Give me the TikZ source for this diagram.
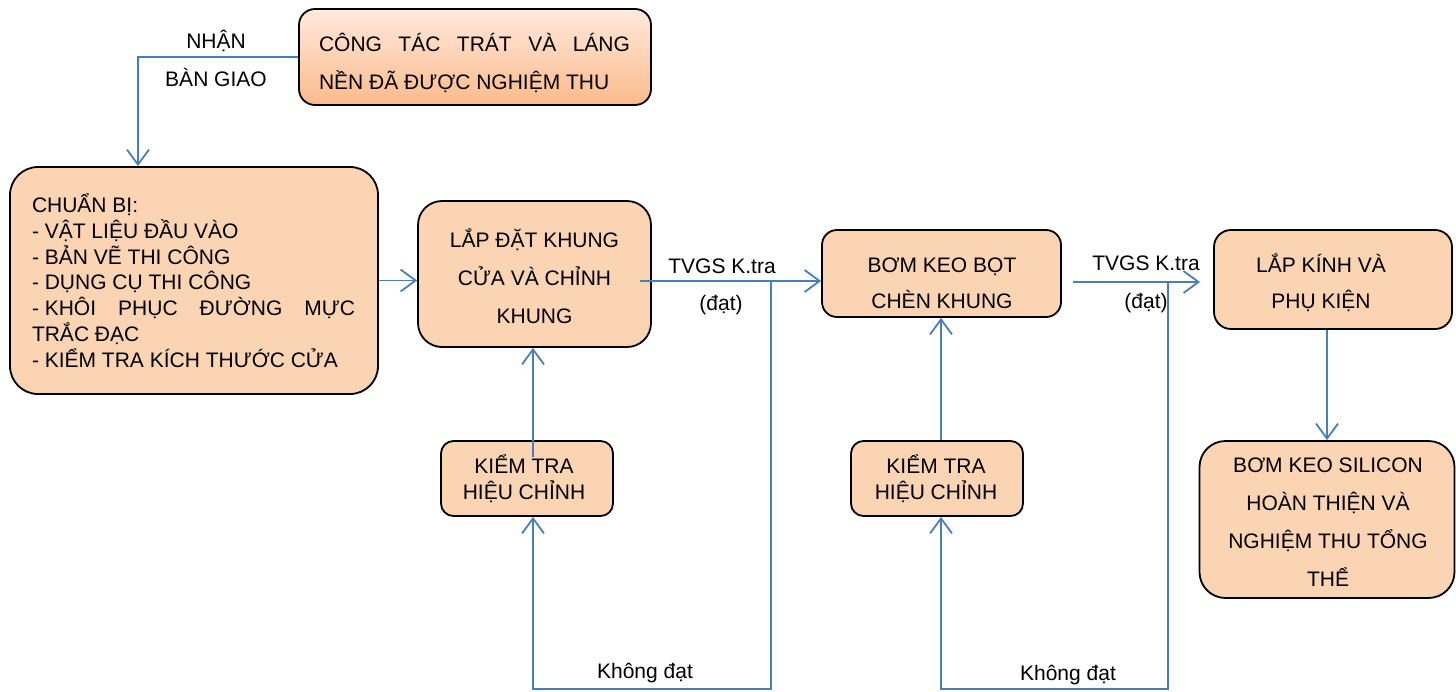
\documentclass[tikz,border=0pt]{standalone}
\usepackage{fontspec}
\setmainfont{Liberation Sans}
\usetikzlibrary{arrows.meta}
\definecolor{peach}{HTML}{FBD4B4}
\definecolor{gtop}{HTML}{FFEADC}
\definecolor{gbot}{HTML}{FCBA8B}
\definecolor{lnk}{HTML}{4A7EBB}
\begin{document}
\begin{tikzpicture}[x=1pt,y=-1pt,
  box/.style={draw=black, line width=1.8pt, fill=peach, inner sep=0pt},
  txt/.style={font=\fontsize{21}{38}\selectfont, align=center, inner sep=0pt},
  lbl/.style={font=\fontsize{21}{25}\selectfont, inner sep=0pt},
  conn/.style={draw=lnk, line width=1.8pt},
  arr/.style={conn, -{Straight Barb[length=15pt,width=22pt]}},
]
\useasboundingbox (0,0) rectangle (1456,691);

% boxes
\node[box, top color=gtop, bottom color=gbot, minimum width=352pt, minimum height=96pt, rounded corners=16pt] (top) at (475,57) {};
\node[box, minimum width=368pt, minimum height=227pt, rounded corners=28pt] (prep) at (194,280.5) {};
\node[box, minimum width=233pt, minimum height=146pt, rounded corners=24pt] (lap) at (534.5,274) {};
\node[box, minimum width=239pt, minimum height=87pt, rounded corners=15pt] (bom) at (941.5,273.5) {};
\node[box, minimum width=238pt, minimum height=99pt, rounded corners=17pt] (kinh) at (1333,279.5) {};
\node[box, minimum width=255pt, minimum height=157pt, rounded corners=26pt] (sil) at (1327,519.5) {};
\node[box, minimum width=172pt, minimum height=75pt, rounded corners=12.5pt] (k1) at (527,478.5) {};
\node[box, minimum width=172pt, minimum height=75pt, rounded corners=12.5pt] (k2) at (937,478.5) {};

% texts
\node[txt] (ttop) at (474.5,63) {\parbox{311pt}{CÔNG TÁC TRÁT VÀ LÁNG\linebreak NỀN ĐÃ ĐƯỢC NGHIỆM THU}};
\node[txt] (tprep) at (193.5,280.5) {\parbox{323pt}{\fontsize{21}{25.8}\selectfont CHUẨN BỊ:\\
- VẬT LIỆU ĐẦU VÀO\\
- BẢN VẼ THI CÔNG\\
- DỤNG CỤ THI CÔNG\\
\mbox{- KHÔI} PHỤC ĐƯỜNG MỰC\linebreak TRẮC ĐẠC\\
- KIỂM TRA KÍCH THƯỚC CỬA}};
\node[txt] (tlap) at (534.5,276) {LẮP ĐẶT KHUNG\\CỬA VÀ CHỈNH\\KHUNG};
\node[txt, font=\fontsize{21}{36}\selectfont] (tbom) at (942,283) {BƠM KEO BỌT\\CHÈN KHUNG};
\node[txt, font=\fontsize{21}{36}\selectfont] (tkinh) at (1321,283) {LẮP KÍNH VÀ\\PHỤ KIỆN};
\node[txt] (tsil) at (1328,521.75) {BƠM KEO SILICON\\HOÀN THIỆN VÀ\\NGHIỆM THU TỔNG\\THỂ};
\node[txt, font=\fontsize{21}{26}\selectfont] (tk1) at (524,479) {KIỂM TRA\\HIỆU CHỈNH};
\node[txt, font=\fontsize{21}{26}\selectfont] (tk2) at (936,479) {KIỂM TRA\\HIỆU CHỈNH};

% labels
\node[txt] (lnhan) at (216,58) {NHẬN\\BÀN GIAO};
\node[lbl] (lt1) at (722,266) {TVGS K.tra};
\node[lbl] (ld1) at (721,305) {(đạt)};
\node[lbl] (lt2) at (1146,263) {TVGS K.tra};
\node[lbl] (ld2) at (1146,303) {(đạt)};
\node[lbl] (lk1) at (645,673) {Không đạt};
\node[lbl] (lk2) at (1068,675) {Không đạt};

% coordinates
\coordinate (a1) at (640,281);
\coordinate (s1) at (771,281);
\coordinate (b1) at (771,689);
\coordinate (x1) at (533,689);
\coordinate (u1) at (533,457);
\coordinate (a2) at (1073,282);
\coordinate (e2) at (1200,282);
\coordinate (s2) at (1168,282);
\coordinate (b2) at (1168,689);
\coordinate (x2) at (941,689);

% connectors
\draw[arr] (top.west) -| ([xshift=-56pt]prep.north);
\draw[arr] (prep.east) -- (prep.east -| lap.west);
\draw[arr] (a1) -- (a1 -| bom.west);
\draw[arr] (s1) -- (b1) -- (x1) -- (x1 |- k1.south);
\draw[arr] (u1) -- (u1 |- lap.south);
\draw[arr] (a2) -- (e2);
\draw[arr] (s2) -- (b2) -- (x2) -- (x2 |- k2.south);
\draw[arr] (k2.north -| x2) -- (x2 |- bom.south);
\draw[arr] (sil.north |- kinh.south) -- (sil.north);
\end{tikzpicture}
\end{document}
